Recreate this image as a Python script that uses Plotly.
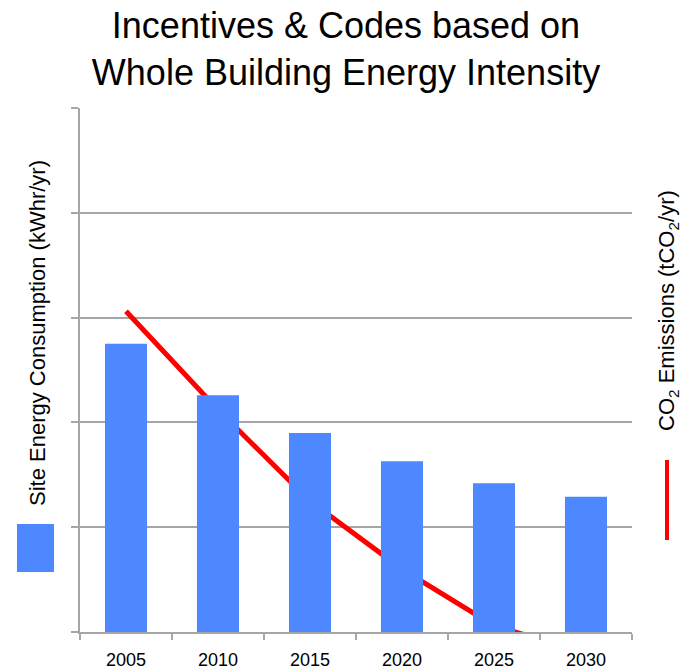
import plotly.graph_objects as go

# Data (values in chart units; the axis runs 0-5 with one gridline per unit)
years = ["2005", "2010", "2015", "2020", "2025", "2030"]
site_energy = [2.75, 2.26, 1.90, 1.63, 1.42, 1.29]
co2_emissions = [3.06, 2.12, 1.25, 0.60, 0.06, -0.20]

title_text = "Incentives & Codes based on<br>Whole Building Energy Intensity"
energy_label = "Site Energy Consumption (kWhr/yr)"
co2_label = "CO<sub>2</sub> Emissions (tCO<sub>2</sub>/yr)"

# Page geometry
PAGE_W, PAGE_H = 692, 672
M_L, M_R, M_T, M_B = 80, 60, 108, 40
PLOT_W = PAGE_W - M_L - M_R
PLOT_H = PAGE_H - M_T - M_B


def px_x(px):
    return (px - M_L) / PLOT_W


def px_y(py):
    return (PAGE_H - M_B - py) / PLOT_H


GRID = "#A6A6A6"
BLUE = "#4D88FF"
RED = "#FF0000"
FONT = "Liberation Sans, Arial, sans-serif"

fig = go.Figure()

# Emissions line sits on the primary axis so the bars (overlay axis) cover it
fig.add_trace(go.Scatter(
    x=years, y=co2_emissions, mode="lines",
    line=dict(color=RED, width=5),
    xaxis="x", yaxis="y", showlegend=False, hoverinfo="skip",
))

fig.add_trace(go.Bar(
    x=years, y=site_energy, marker=dict(color=BLUE, line=dict(width=0)),
    xaxis="x", yaxis="y2", showlegend=False,
))

fig.update_layout(
    width=PAGE_W, height=PAGE_H,
    margin=dict(l=M_L, r=M_R, t=M_T, b=M_B, pad=0, autoexpand=False),
    paper_bgcolor="white", plot_bgcolor="white",
    font=dict(family=FONT, color="black"),
    bargap=0.543,
    title=dict(
        text=title_text, x=0.5, xref="container", xanchor="center",
        y=0.943, yref="container", yanchor="top",
        font=dict(family=FONT, size=36, color="black"),
    ),
    xaxis=dict(
        type="category", showline=True, linecolor=GRID, linewidth=2,
        ticks="outside", tickson="boundaries", ticklen=6, tickwidth=2,
        tickcolor=GRID, showgrid=False, zeroline=False, automargin=False,
        tickfont=dict(family=FONT, size=18, color="black"),
        ticklabelstandoff=10,
    ),
    yaxis=dict(
        range=[0, 5], tick0=0, dtick=1, showgrid=True, gridcolor=GRID,
        gridwidth=2, zeroline=False, showline=True, linecolor=GRID,
        linewidth=2, ticks="outside", ticklen=7, tickwidth=2,
        tickcolor=GRID, showticklabels=False, automargin=False,
    ),
    yaxis2=dict(
        range=[0, 5], overlaying="y", side="right", showgrid=False,
        zeroline=False, showline=False, showticklabels=False, ticks="",
        automargin=False,
    ),
)

# Legend: rotated labels with their swatches beside the plot
fig.add_annotation(
    text=energy_label, textangle=-90, showarrow=False,
    xref="paper", yref="paper", x=px_x(37), y=px_y(333),
    xanchor="center", yanchor="middle",
    font=dict(family=FONT, size=22, color="black"),
)
fig.add_annotation(
    text=co2_label, textangle=-90, showarrow=False,
    xref="paper", yref="paper", x=px_x(668), y=px_y(311),
    xanchor="center", yanchor="middle",
    font=dict(family=FONT, size=22, color="black"),
)
fig.add_shape(
    type="rect", xref="paper", yref="paper",
    x0=px_x(17), x1=px_x(54), y0=px_y(572), y1=px_y(524),
    fillcolor=BLUE, line=dict(width=0),
)
fig.add_shape(
    type="line", xref="paper", yref="paper",
    x0=px_x(667), x1=px_x(667), y0=px_y(540), y1=px_y(460),
    line=dict(color=RED, width=4),
)

fig.write_html("out.html")
